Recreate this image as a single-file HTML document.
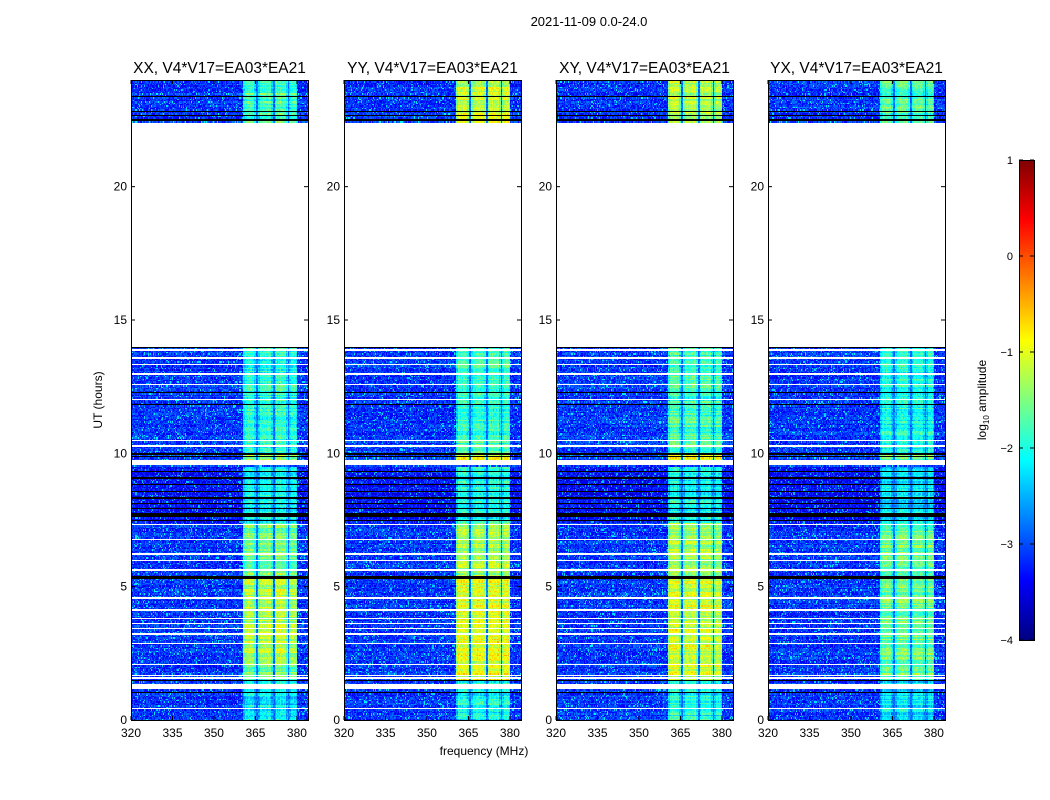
<!DOCTYPE html>
<html><head><meta charset="utf-8">
<style>
body{margin:0;background:#fff;font-family:"Liberation Sans",sans-serif;}
#root{position:relative;width:1050px;height:800px;overflow:hidden;background:#fff;}
svg text{font-family:"Liberation Sans",sans-serif;}
canvas{position:absolute;image-rendering:pixelated;}
</style></head>
<body>
<div id="root">
<canvas id="c0" width="177" height="640" style="left:131px;top:80px"></canvas>
<canvas id="c1" width="177" height="640" style="left:344px;top:80px"></canvas>
<canvas id="c2" width="177" height="640" style="left:556px;top:80px"></canvas>
<canvas id="c3" width="177" height="640" style="left:768px;top:80px"></canvas>
<canvas id="cb" width="15" height="480" style="left:1019px;top:160px"></canvas>
<svg id="ov" width="1050" height="800" style="position:absolute;left:0;top:0"></svg>
</div>
<script>
const panelTitles=["XX, V4*V17=EA03*EA21","YY, V4*V17=EA03*EA21","XY, V4*V17=EA03*EA21","YX, V4*V17=EA03*EA21"];
const xTicks=[320,335,350,365,380];
const yTicks=[0,5,10,15,20];
const cbTicks=[1,0,-1,-2,-3,-4];
const baseLevel=-3.1;
const gapRanges=[[14.0,22.4]];
const whiteLines=[[0.4,0.45],[1.15,1.35],[1.55,1.6],[1.65,1.7],[2.05,2.1],[2.85,2.9],[3.2,3.25],[3.4,3.45],[3.6,3.65],[3.78,3.83],[4.1,4.15],[4.55,4.62],[5.6,5.65],[5.95,6.0],[6.2,6.25],[6.75,6.8],[7.3,7.35],[9.55,9.75],[10.25,10.3],[10.45,10.5],[12.0,12.05],[12.55,12.6],[12.95,13.0],[13.3,13.35],[13.55,13.6],[13.85,13.9]];
const blackLines=[[1.0,1.05],[1.45,1.5],[5.3,5.4],[7.45,7.5],[7.6,7.75],[7.9,7.95],[8.1,8.15],[8.3,8.35],[8.55,8.6],[8.8,8.85],[9.05,9.1],[9.3,9.35],[9.85,9.9],[9.95,10.0],[11.8,11.85],[12.25,12.3],[13.95,14.0],[22.45,22.55],[22.65,22.7],[22.8,22.85],[23.35,23.4],[23.95,24.0]];
const darkRanges=[[7.4,9.5,-3.3]];
const subBands=[[360.5,365.2],[366,371.2],[371.9,376.6],[377.3,380.2]];
const bandLevelsXX=[[0,1.5,-2.1],[1.5,2.0,-1.5],[2.0,5.3,-1.2],[5.3,7.4,-1.5],[7.4,9.5,-2.1],[9.75,10,-1.4],[10,14,-1.9],[22.4,24,-1.7]];
const bandLevelsYY=[[0,1.5,-2.0],[1.5,5.3,-1.0],[5.3,7.4,-1.3],[7.4,9.5,-2.0],[9.75,10,-1.0],[10,14,-1.8],[22.4,24,-1.1]];
const bandLevelsXY=[[0,1.5,-2.0],[1.5,5.3,-1.1],[5.3,7.4,-1.3],[7.4,9.5,-2.0],[9.75,10,-1.0],[10,14,-1.8],[22.4,24,-1.2]];
const bandLevelsYX=[[0,1.5,-2.2],[1.5,5.3,-1.6],[5.3,7.4,-1.6],[7.4,9.5,-2.2],[9.75,10,-1.6],[10,14,-2.0],[22.4,24,-1.7]];
const panelBands=[bandLevelsXX,bandLevelsYY,bandLevelsXY,bandLevelsYX];

const PL=[131,344,556,768],PT=80,PW=177,PH=640,FMIN=320,FMAX=384,TMIN=0,TMAX=24;
function xScale(f){return (f-FMIN)/(FMAX-FMIN)*PW;}
function yScale(t){return PH-(t-TMIN)/(TMAX-TMIN)*PH;}
function jet(v){let f=Math.max(0,Math.min(1,(v+4)/5));
 const r=Math.max(0,Math.min(1,1.5-Math.abs(4*f-3))),g=Math.max(0,Math.min(1,1.5-Math.abs(4*f-2))),b=Math.max(0,Math.min(1,1.5-Math.abs(4*f-1)));
 return [r*255|0,g*255|0,b*255|0];}
function hash(a,b){let h=(a*374761393+b*668265263)|0;h=(h^(h>>>13))*1274126177|0;return ((h^(h>>>16))>>>0)/4294967296;}
function inR(t,arr){for(const r of arr)if(t>=r[0]&&t<r[1])return r;return null;}
function cellValue(p,t,f,row,ch){
 if(inR(t,gapRanges)||inR(t,whiteLines))return null;
 if(inR(t,blackLines))return 'k';
 let base=baseLevel;const d=inR(t,darkRanges);if(d)base=d[2];
 const rn=hash(row,17+p)-0.5;
 const n=hash(row*131+ch,p+3);
 let v=base+(n-0.5)*0.7+(n>0.93?0.5:0)+rn*0.25;
 const sb=subBands.find(s=>f>=s[0]&&f<s[1]);
 const bl=inR(t,panelBands[p]);
 if(bl&&f>=360.5&&f<380.2){
  if(sb){const edge=(f-sb[0]<0.6||sb[1]-f<0.6)?-0.35:0;
   v=bl[2]+edge+(hash(row*7+ch,p+11)-0.5)*0.45+rn*0.6+(hash(ch,p+5)-0.5)*0.2;}
  else {v=-2.8+(hash(row*7+ch,p+11)-0.5)*0.5;} }
 return v;}
for(let p=0;p<4;p++){
 const cv=document.getElementById('c'+p),ctx=cv.getContext('2d');const img=ctx.createImageData(PW,PH);
 for(let py=0;py<PH;py++){const t=TMAX-(py+0.5)/PH*(TMAX-TMIN);const row=Math.floor(t/0.05);
  for(let px=0;px<PW;px++){const f=FMIN+(px+0.5)/PW*(FMAX-FMIN);const ch=Math.floor((f-FMIN)/0.4);
   const v=cellValue(p,t,f,row,ch);let c;
   if(v===null)c=[255,255,255];else if(v==='k')c=[0,0,0];else c=jet(v);
   const k=(py*PW+px)*4;img.data[k]=c[0];img.data[k+1]=c[1];img.data[k+2]=c[2];img.data[k+3]=255;}}
 ctx.putImageData(img,0,0);}
{const cv=document.getElementById('cb'),ctx=cv.getContext('2d');
 for(let y=0;y<480;y++){const c=jet(1-(y+0.5)/480*5);ctx.fillStyle=`rgb(${c})`;ctx.fillRect(0,y,15,1);}}
const NS='http://www.w3.org/2000/svg',ov=document.getElementById('ov');
function mk(tag,attrs,txt){const e=document.createElementNS(NS,tag);for(const k in attrs)e.setAttribute(k,attrs[k]);if(txt!==undefined)e.textContent=txt;ov.appendChild(e);return e;}
let e=mk('text',{x:589,y:26,'font-size':13,'text-anchor':'middle'},'2021-11-09 0.0-24.0');


for(let p=0;p<4;p++){const L=PL[p];
 e=mk('rect',{x:L+0.5,y:PT+0.5,width:PW,height:PH,fill:'none',stroke:'#000','stroke-width':1});
 
 
 e=mk('text',{x:L+PW/2,y:73,'font-size':15.5,'text-anchor':'middle'},panelTitles[p]);
 
 
 for(const t of yTicks){const y=PT+yScale(t);
  mk('line',{x1:L,x2:L+4,y1:y,y2:y,stroke:'#000'});mk('line',{x1:L+PW-4,x2:L+PW,y1:y,y2:y,stroke:'#000'});
  e=mk('text',{x:L-4,y:y+4,'font-size':12,'text-anchor':'end'},String(t));
  
  }
 for(const f of xTicks){const x=L+xScale(f);
  mk('line',{x1:x,x2:x,y1:PT+PH,y2:PT+PH-4,stroke:'#000'});mk('line',{x1:x,x2:x,y1:PT,y2:PT+4,stroke:'#000'});
  e=mk('text',{x:x,y:737,'font-size':12,'text-anchor':'middle'},String(f));
  
  }}
e=mk('text',{x:484,y:755,'font-size':12,'text-anchor':'middle'},'frequency (MHz)');


e=mk('text',{x:0,y:0,'font-size':12,'text-anchor':'middle',transform:'translate(102,400) rotate(-90)'},'UT (hours)');


e=mk('rect',{x:1019.5,y:160.5,width:15,height:480,fill:'none',stroke:'#000'});


for(const v of cbTicks){const y=160+(1-v)/5*480;
 mk('line',{x1:1019,x2:1023,y1:y,y2:y,stroke:'#000'});mk('line',{x1:1030,x2:1034,y1:y,y2:y,stroke:'#000'});
 e=mk('text',{x:1013,y:y+4,'font-size':11,'text-anchor':'end'},v<0?'\u2212'+(-v):String(v));
 
 }
e=mk('text',{x:0,y:0,'font-size':12,'text-anchor':'middle',transform:'translate(986,400) rotate(-90)'});
e.innerHTML='log<tspan font-size="8" dy="3">10</tspan><tspan dy="-3"> amplitude</tspan>';


</script>
</body></html>
